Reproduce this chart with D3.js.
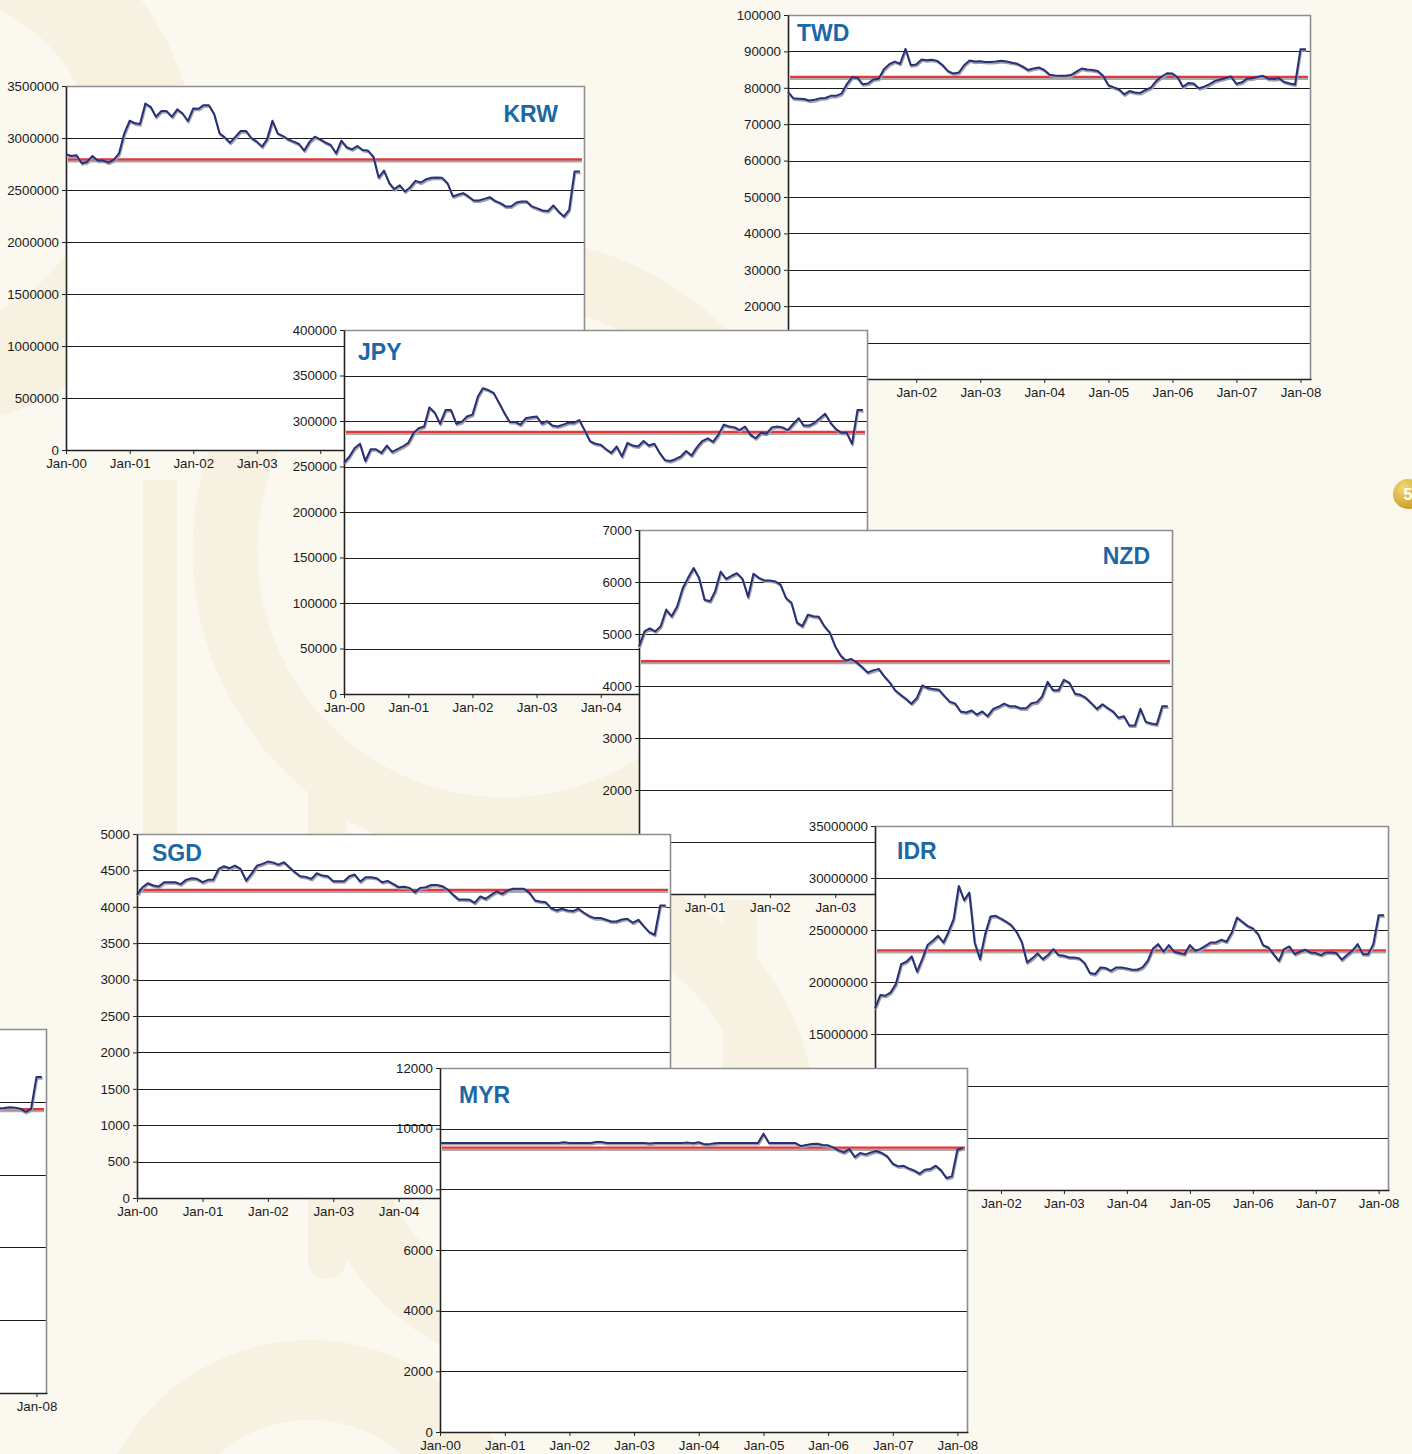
<!DOCTYPE html>
<html lang="en">
<head>
<meta charset="UTF-8">
<title>Currency charts</title>
<script src="https://d3js.org/d3.v7.min.js"></script>
<style>
  html, body { margin: 0; padding: 0; background: #fbf8f0; overflow: hidden; }
  svg { display: block; }
  text { font-family: Arial, "Liberation Sans", sans-serif; }
</style>
</head>
<body>
<svg id="charts"></svg>
<script>
const width = 1412, height = 1454;

// monthly values, Jan-00 .. Feb-08 (98 months)
const krw = [2843000, 2827000, 2834000, 2757000, 2770000, 2827000, 2783000, 2783000, 2764000, 2789000,
  2853000, 3045000, 3166000, 3141000, 3134000, 3332000, 3300000, 3204000, 3259000, 3259000,
  3204000, 3275000, 3236000, 3163000, 3284000, 3281000, 3316000, 3316000, 3230000, 3045000,
  3006000, 2955000, 3013000, 3067000, 3067000, 3000000, 2965000, 2917000, 2987000, 3166000,
  3045000, 3019000, 2987000, 2965000, 2942000, 2879000, 2965000, 3013000, 2987000, 2955000,
  2933000, 2853000, 2974000, 2911000, 2891000, 2923000, 2885000, 2879000, 2821000, 2620000,
  2687000, 2565000, 2508000, 2546000, 2486000, 2527000, 2588000, 2572000, 2604000, 2617000,
  2620000, 2617000, 2565000, 2438000, 2454000, 2470000, 2438000, 2399000, 2399000, 2415000,
  2431000, 2396000, 2374000, 2342000, 2342000, 2380000, 2390000, 2390000, 2342000, 2323000,
  2303000, 2297000, 2351000, 2294000, 2246000, 2310000, 2677000, 2677000];
const krwAvg = 2795000;

const twd = [78900, 77100, 77000, 76900, 76500, 76700, 77100, 77200, 77800, 77800,
  78400, 81000, 82900, 82700, 81000, 81200, 82300, 82500, 85100, 86500,
  87200, 86600, 90700, 86200, 86400, 87800, 87600, 87700, 87400, 86200,
  84600, 83900, 84200, 86200, 87500, 87200, 87300, 87100, 87100, 87200,
  87400, 87200, 86900, 86600, 85800, 84900, 85300, 85600, 84900, 83600,
  83400, 83300, 83300, 83500, 84400, 85300, 85000, 84900, 84600, 83300,
  80700, 80100, 79600, 78200, 79100, 78700, 78600, 79400, 80100, 81900,
  83100, 84000, 83900, 82800, 80300, 81300, 81200, 79900, 80300, 81000,
  81900, 82300, 82700, 83100, 81100, 81500, 82500, 82600, 83000, 83300,
  82500, 82400, 82600, 81600, 81200, 80900, 90600, 90600];
const twdAvg = 83000;

const jpy = [254000, 261000, 270000, 275000, 256000, 269000, 269000, 265000, 273000, 266000,
  269000, 272000, 276000, 287000, 292000, 294000, 315000, 309000, 297000, 312000,
  312000, 297000, 299000, 305000, 307000, 327000, 336000, 334000, 331000, 320000,
  309000, 299000, 299000, 296000, 303000, 304000, 305000, 297000, 300000, 295000,
  294000, 296000, 298000, 298000, 301000, 290000, 278000, 275000, 274000, 269000,
  265000, 272000, 261000, 276000, 273000, 272000, 278000, 273000, 275000, 265000,
  257000, 256000, 258000, 261000, 267000, 262000, 271000, 278000, 281000, 277000,
  285000, 296000, 294000, 293000, 290000, 294000, 285000, 281000, 287000, 286000,
  293000, 294000, 293000, 290000, 297000, 303000, 295000, 295000, 298000, 303000,
  308000, 298000, 291000, 287000, 287000, 275000, 312000, 312000];
const jpyAvg = 288000;

const nzd = [4760, 5050, 5110, 5050, 5150, 5470, 5340, 5530, 5880, 6080,
  6270, 6080, 5660, 5630, 5820, 6200, 6060, 6120, 6170, 6060,
  5710, 6160, 6080, 6030, 6030, 6010, 5950, 5690, 5600, 5220,
  5150, 5370, 5340, 5330, 5150, 5030, 4760, 4580, 4490, 4520,
  4450, 4360, 4260, 4300, 4330, 4190, 4070, 3920, 3830, 3750,
  3660, 3770, 4010, 3960, 3940, 3930, 3810, 3700, 3660, 3510,
  3490, 3530, 3450, 3510, 3420, 3560, 3600, 3660, 3610, 3610,
  3570, 3570, 3670, 3690, 3800, 4080, 3920, 3920, 4120, 4060,
  3850, 3830, 3770, 3670, 3560, 3650, 3580, 3510, 3390, 3420,
  3240, 3240, 3560, 3310, 3280, 3260, 3610, 3610];
const nzdAvg = 4480;

// only the last months of this panel fall inside the page
const thbStart = 86;
const thb = [39100, 39000, 39050, 39100, 39150, 39250, 39200, 39050, 38600, 39000, 43400, 43400];
const thbAvg = 39000;

const sgd = [4164, 4269, 4324, 4292, 4279, 4338, 4338, 4338, 4311, 4370,
  4393, 4384, 4338, 4370, 4370, 4521, 4557, 4530, 4566, 4521,
  4361, 4452, 4566, 4589, 4621, 4607, 4580, 4612, 4543, 4475,
  4420, 4411, 4384, 4461, 4429, 4420, 4352, 4352, 4352, 4420,
  4443, 4347, 4406, 4406, 4393, 4338, 4356, 4315, 4269, 4274,
  4260, 4201, 4260, 4269, 4301, 4301, 4283, 4237, 4164, 4100,
  4100, 4096, 4055, 4142, 4110, 4164, 4210, 4178, 4224, 4247,
  4247, 4247, 4192, 4087, 4073, 4064, 3982, 3950, 3973, 3950,
  3941, 3973, 3918, 3872, 3845, 3845, 3826, 3799, 3799, 3826,
  3836, 3781, 3822, 3735, 3653, 3616, 4018, 4018];
const sgdAvg = 4233;

const idr = [17470000, 18750000, 18680000, 19000000, 19800000, 21720000, 21950000, 22460000, 20990000, 22200000,
  23550000, 23960000, 24440000, 23800000, 24760000, 26040000, 29240000, 27870000, 28600000, 23800000,
  22200000, 24600000, 26300000, 26360000, 26100000, 25790000, 25470000, 24830000, 23870000, 21880000,
  22270000, 22750000, 22200000, 22590000, 23160000, 22590000, 22520000, 22360000, 22360000, 22270000,
  21820000, 20860000, 20760000, 21400000, 21340000, 21080000, 21400000, 21400000, 21310000, 21180000,
  21180000, 21400000, 22040000, 23230000, 23640000, 22910000, 23550000, 22910000, 22780000, 22680000,
  23550000, 23000000, 23160000, 23480000, 23800000, 23800000, 24060000, 23870000, 24760000, 26200000,
  25790000, 25400000, 25150000, 24600000, 23550000, 23320000, 22680000, 22040000, 23160000, 23420000,
  22680000, 22910000, 23100000, 22840000, 22780000, 22590000, 22840000, 22840000, 22780000, 22140000,
  22590000, 23000000, 23640000, 22680000, 22680000, 23640000, 26430000, 26430000];
const idrAvg = 23040000;

const myr = [9527, 9527, 9527, 9527, 9527, 9527, 9527, 9527, 9527, 9527,
  9527, 9527, 9527, 9527, 9527, 9527, 9527, 9527, 9527, 9527,
  9527, 9527, 9527, 9550, 9527, 9527, 9527, 9527, 9527, 9560,
  9560, 9527, 9527, 9527, 9527, 9527, 9527, 9527, 9527, 9510,
  9527, 9527, 9527, 9527, 9527, 9527, 9540, 9520, 9550, 9490,
  9490, 9520, 9527, 9527, 9527, 9527, 9527, 9527, 9527, 9527,
  9835, 9527, 9527, 9527, 9527, 9527, 9527, 9428, 9461, 9494,
  9505, 9461, 9450, 9373, 9285, 9219, 9329, 9065, 9197, 9153,
  9219, 9263, 9197, 9087, 8845, 8757, 8779, 8691, 8625, 8515,
  8647, 8669, 8779, 8625, 8372, 8427, 9307, 9362];
const myrAvg = 9373;

// panels in drawing order (later ones sit on top)
// xLabels: first and last year whose tick label is printed
const panels = [
  { name: "TWD", values: twd, avg: twdAvg, start: 0, yMax: 100000, yStep: 10000,
    box: [788, 15, 1311, 379], xLabels: [2002, 2008], title: { anchor: "start", dx: 9, dy: 26 } },
  { name: "KRW", values: krw, avg: krwAvg, start: 0, yMax: 3500000, yStep: 500000,
    box: [66, 86, 585, 450], xLabels: [2000, 2003], title: { anchor: "end", dx: -27, dy: 36 } },
  { name: "JPY", values: jpy, avg: jpyAvg, start: 0, yMax: 400000, yStep: 50000,
    box: [344, 330, 868, 694], xLabels: [2000, 2008], title: { anchor: "start", dx: 14, dy: 30 } },
  { name: "NZD", values: nzd, avg: nzdAvg, start: 0, yMax: 7000, yStep: 1000,
    box: [639, 530, 1173, 894], xLabels: [2000, 2008], title: { anchor: "end", dx: -23, dy: 34 } },
  { name: "THB", values: thb, avg: thbAvg, start: thbStart, yMax: 50000, yStep: 10000,
    box: [-477, 1029, 47, 1393], xLabels: [2008, 2008], title: null },
  { name: "SGD", values: sgd, avg: sgdAvg, start: 0, yMax: 5000, yStep: 500,
    box: [137, 834, 671, 1198], xLabels: [2000, 2008], title: { anchor: "start", dx: 15, dy: 27 } },
  { name: "IDR", values: idr, avg: idrAvg, start: 0, yMax: 35000000, yStep: 5000000,
    box: [875, 826, 1389, 1190], xLabels: [2000, 2008], title: { anchor: "start", dx: 22, dy: 33 } },
  { name: "MYR", values: myr, avg: myrAvg, start: 0, yMax: 12000, yStep: 2000,
    box: [440, 1068, 968, 1432], xLabels: [2000, 2008], title: { anchor: "start", dx: 19, dy: 35 } }
];

const month = i => new Date(2000, i, 1);
const xDomain = [month(0), month(98)];

const svg = d3.select("#charts")
  .attr("width", width)
  .attr("height", height);

// faint watermark shapes in the background
const bg = svg.append("g").attr("fill", "none").attr("stroke", "#f6f1e1");
bg.append("circle").attr("cx", -70).attr("cy", 160).attr("r", 215).attr("stroke-width", 100);
bg.append("circle").attr("cx", 505).attr("cy", 550).attr("r", 280).attr("stroke-width", 65);
bg.append("path").attr("d", "M160,480 V840").attr("stroke-width", 34);
bg.append("path").attr("d", "M327,790 V1260").attr("stroke-width", 38).attr("stroke-linecap", "round");
bg.append("circle").attr("cx", 310).attr("cy", 1560).attr("r", 180).attr("stroke-width", 80);
bg.append("circle").attr("cx", 560).attr("cy", 1120).attr("r", 220).attr("stroke-width", 70);
bg.append("path").attr("d", "M740,900 V1070").attr("stroke-width", 34);

function drawPanel(p) {
  const [x0, y0, x1, y1] = p.box;
  const g = svg.append("g").attr("class", "panel");

  const x = d3.scaleTime().domain(xDomain).range([x0, x1]);
  const y = d3.scaleLinear().domain([0, p.yMax]).range([y1, y0]);
  const ticks = d3.range(0, p.yMax + p.yStep / 2, p.yStep);

  g.append("rect")
    .attr("x", x0).attr("y", y0)
    .attr("width", x1 - x0).attr("height", y1 - y0)
    .attr("fill", "#fff");

  g.selectAll("line.grid")
    .data(ticks.filter(t => t > 0 && t < p.yMax))
    .join("line")
    .attr("class", "grid")
    .attr("x1", x0).attr("x2", x1)
    .attr("y1", d => Math.round(y(d)) + 0.5)
    .attr("y2", d => Math.round(y(d)) + 0.5)
    .attr("stroke", "#1b1b1b")
    .attr("stroke-width", 1);

  // top and right frame in grey
  g.append("path")
    .attr("d", `M${x0},${y0 + 0.5}H${x1 - 0.5}V${y1}`)
    .attr("fill", "none")
    .attr("stroke", "#8e8e8e")
    .attr("stroke-width", 1.6);

  const yAxis = d3.axisLeft(y)
    .tickValues(ticks)
    .tickFormat(d3.format("d"))
    .tickSize(4).tickSizeOuter(0).tickPadding(3);
  const ya = g.append("g").attr("transform", `translate(${x0},0)`).call(yAxis);

  const xAxis = d3.axisBottom(x)
    .ticks(d3.timeYear.every(1))
    .tickFormat(d => {
      const yr = d.getFullYear();
      return yr >= p.xLabels[0] && yr <= p.xLabels[1] ? d3.timeFormat("%b-%y")(d) : "";
    })
    .tickSize(4).tickSizeOuter(0).tickPadding(5);
  const xa = g.append("g").attr("transform", `translate(0,${y1})`).call(xAxis);

  [ya, xa].forEach(a => {
    a.select(".domain").attr("stroke", "#222").attr("stroke-width", 1.6);
    a.selectAll(".tick line").attr("stroke", "#222");
    a.selectAll(".tick text")
      .attr("fill", "#1a1a1a")
      .style("font-size", "13.3px")
      .style("font-family", "Arial, 'Liberation Sans', sans-serif");
  });
  // labels that would sit left of the page are not printed
  if (x0 < 60) ya.selectAll(".tick text").remove();
  xa.selectAll(".tick text").filter(function () { return this.textContent === ""; }).remove();

  // average line with its grey shadow
  const ay = y(p.avg);
  g.append("line")
    .attr("x1", x0 + 2).attr("x2", x1 - 3)
    .attr("y1", ay + 2).attr("y2", ay + 2)
    .attr("stroke", "#a9a9a9").attr("stroke-width", 2.4);
  g.append("line")
    .attr("x1", x0 + 2).attr("x2", x1 - 3)
    .attr("y1", ay).attr("y2", ay)
    .attr("stroke", "#e3373b").attr("stroke-width", 2.2);

  const line = d3.line()
    .x((d, i) => x(month(p.start + i)))
    .y(d => y(d));

  g.append("path")
    .datum(p.values)
    .attr("d", line)
    .attr("transform", "translate(0.8,1.6)")
    .attr("fill", "none")
    .attr("stroke", "#a2a2a6")
    .attr("stroke-width", 2)
    .attr("stroke-linejoin", "round");
  g.append("path")
    .datum(p.values)
    .attr("d", line)
    .attr("fill", "none")
    .attr("stroke", "#27307a")
    .attr("stroke-width", 2)
    .attr("stroke-linejoin", "round");

  if (p.title) {
    g.append("text")
      .attr("x", (p.title.anchor === "end" ? x1 : x0) + p.title.dx)
      .attr("y", y0 + p.title.dy)
      .attr("text-anchor", p.title.anchor)
      .attr("fill", "#1b68a7")
      .style("font-size", "23px")
      .style("font-weight", "bold")
      .text(p.name);
  }
}

panels.forEach(drawPanel);

// page number badge at the right edge
const defs = svg.append("defs");
const grad = defs.append("radialGradient").attr("id", "gold").attr("cx", "35%").attr("cy", "30%").attr("r", "75%");
grad.append("stop").attr("offset", "0%").attr("stop-color", "#f3da78");
grad.append("stop").attr("offset", "100%").attr("stop-color", "#c79b24");
svg.append("circle").attr("cx", 1408).attr("cy", 494).attr("r", 15).attr("fill", "url(#gold)");
svg.append("text")
  .attr("x", 1408).attr("y", 500)
  .attr("text-anchor", "middle")
  .attr("fill", "#fff")
  .style("font-size", "16px")
  .style("font-weight", "bold")
  .text("5");
</script>
</body>
</html>
